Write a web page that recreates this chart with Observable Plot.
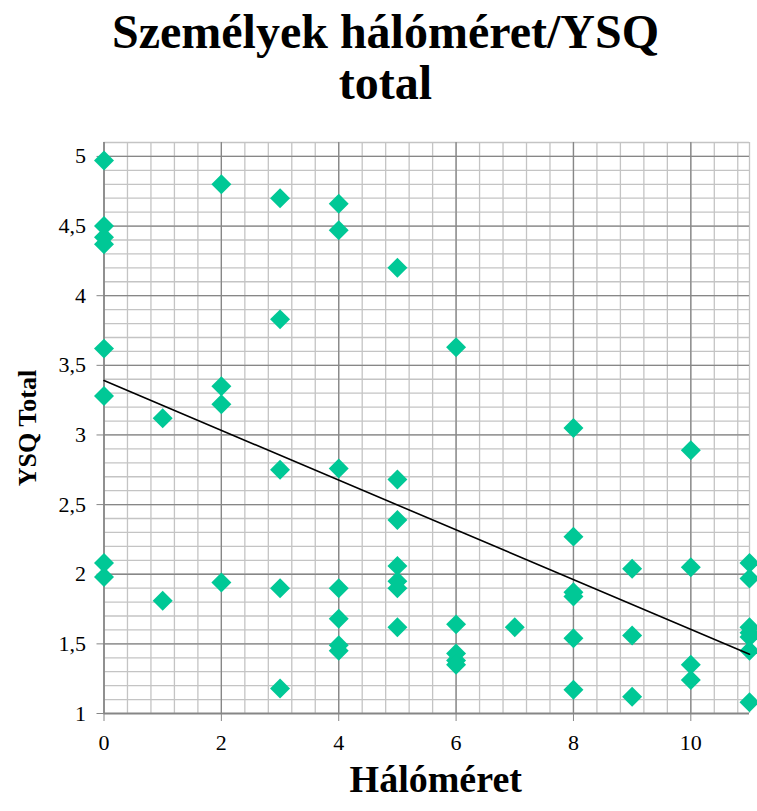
<!DOCTYPE html>
<html>
<head>
<meta charset="utf-8">
<script src="https://cdn.jsdelivr.net/npm/d3@7"></script>
<script src="https://cdn.jsdelivr.net/npm/@observablehq/plot@0.6"></script>
<style>
  body { margin: 0; background: #fff; width: 757px; }
  #title { height: 120px; box-sizing: border-box; padding-top: 6px; text-align: center;
    font-family: "Liberation Serif", "Times New Roman", serif; font-weight: bold;
    font-size: 48px; line-height: 51px; color: #000; padding-left: 14px; }
  #chart svg { display: block; }
</style>
</head>
<body>
<div id="title">Személyek hálóméret/YSQ<br>total</div>
<div id="chart"></div>
<script>
// Hálóméret (network size) per person
const halomeret = [
  0,0,0,0,0,0,0,0,
  1,1,
  2,2,2,2,
  3,3,3,3,3,
  4,4,4,4,4,4,4,
  5,5,5,5,5,5,5,
  6,6,6,6,6,
  7,
  8,8,8,8,8,8,
  9,9,9,
  10,10,10,10,
  11,11,11,11,11,11,11
];
// YSQ Total per person
const ysqTotal = [
  4.97,4.50,4.42,4.37,3.62,3.28,2.08,1.98,
  3.12,1.81,
  4.80,3.35,3.22,1.94,
  4.70,3.83,2.75,1.90,1.18,
  4.66,4.47,2.76,1.90,1.68,1.49,1.45,
  4.20,2.68,2.39,2.06,1.95,1.90,1.62,
  3.63,1.64,1.43,1.38,1.35,
  1.62,
  3.05,2.27,1.87,1.84,1.54,1.17,
  2.04,1.56,1.12,
  2.89,2.05,1.35,1.24,
  2.08,1.97,1.62,1.58,1.55,1.45,1.08
];
const xTicks = [0, 2, 4, 6, 8, 10];
const yTicks = [1, 1.5, 2, 2.5, 3, 3.5, 4, 4.5, 5];
const xMinor = d3.range(0, 55).map(i => i * 0.4).filter(v => v <= 11.01).concat([11]);
const yMinor = d3.range(10, 52).map(i => i / 10);
const xLabel = "Hálóméret";
const yLabel = "YSQ Total";

const data = halomeret.map((x, i) => ({x, y: ysqTotal[i]}));
const fmt = d => String(d).replace(".", ",");
const serif = "Liberation Serif, Times New Roman, serif";

const chart = Plot.plot({
  width: 757,
  height: 691,
  marginTop: 22,
  marginBottom: 98,
  marginLeft: 103.5,
  marginRight: 8,
  style: { fontFamily: serif, fontSize: "22px", color: "#000", background: "#fff" },
  x: { domain: [0, 11], label: null },
  y: { domain: [1, 5.1], label: null },
  marks: [
    Plot.ruleX(xMinor, { stroke: "#c4c4c4", strokeWidth: 1.3 }),
    Plot.ruleY(yMinor, { stroke: "#c4c4c4", strokeWidth: 1.3 }),
    Plot.ruleX(xTicks, { stroke: "#878787", strokeWidth: 1.3 }),
    Plot.ruleY(yTicks, { stroke: "#878787", strokeWidth: 1.3 }),
    Plot.ruleX([0], { stroke: "#868686", strokeWidth: 1.3 }),
    Plot.ruleY([1], { stroke: "#868686", strokeWidth: 1.3 }),
    Plot.axisX({ ticks: xTicks, tickSize: 8, tickPadding: 13, tickFormat: fmt, stroke: "#868686", fill: "#000", fontSize: 22 }),
    Plot.axisY({ ticks: yTicks, tickSize: 7, tickPadding: 11, tickFormat: fmt, stroke: "#868686", fill: "#000", fontSize: 22 }),
    Plot.dot(data, { x: "x", y: "y", symbol: "diamond2", r: 9, fill: "#00c896", stroke: "none" }),
    Plot.linearRegressionY(data, { x: "x", y: "y", stroke: "#000", strokeWidth: 1.6, ci: 0 }),
    Plot.text([yLabel], { frameAnchor: "left", dx: -76, rotate: -90, textAnchor: "middle", fontWeight: "bold", fontSize: 26, fill: "#000" }),
    Plot.text([xLabel], { frameAnchor: "bottom", dx: 9, dy: 78, fontWeight: "bold", fontSize: 38, fill: "#000" })
  ]
});
document.getElementById("chart").appendChild(chart);
</script>
</body>
</html>
